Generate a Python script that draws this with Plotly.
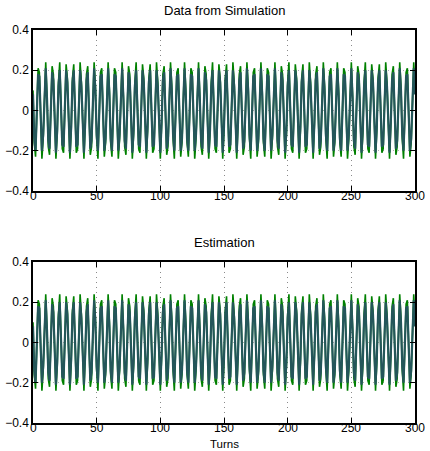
import plotly.graph_objects as go

# Turn index and signal values (two series, two panels)
turns = list(range(301))

sim_green = [
    0.10, -0.16, -0.23, -0.03, 0.21, 0.19, -0.05, -0.24, -0.14, 0.12, 0.24, 0.07, -0.18, -0.22, 0.00, 0.22, 0.18, -0.07, -0.24, -0.12,
    0.14, 0.24, 0.05, -0.19, -0.21, 0.03, 0.23, 0.16, -0.10, -0.24, -0.10, 0.16, 0.23, 0.03, -0.21, -0.19, 0.05, 0.24, 0.14, -0.12,
    -0.24, -0.07, 0.18, 0.22, 0.00, -0.22, -0.18, 0.07, 0.24, 0.12, -0.14, -0.24, -0.05, 0.19, 0.21, -0.03, -0.23, -0.16, 0.10, 0.24,
    0.10, -0.16, -0.23, -0.03, 0.21, 0.19, -0.05, -0.24, -0.14, 0.12, 0.24, 0.07, -0.18, -0.22, 0.00, 0.22, 0.18, -0.07, -0.24, -0.12,
    0.14, 0.24, 0.05, -0.19, -0.21, 0.03, 0.23, 0.16, -0.10, -0.24, -0.10, 0.16, 0.23, 0.03, -0.21, -0.19, 0.05, 0.24, 0.14, -0.12,
    -0.24, -0.07, 0.18, 0.22, 0.00, -0.22, -0.18, 0.07, 0.24, 0.12, -0.14, -0.24, -0.05, 0.19, 0.21, -0.03, -0.23, -0.16, 0.10, 0.24,
    0.10, -0.16, -0.23, -0.03, 0.21, 0.19, -0.05, -0.24, -0.14, 0.12, 0.24, 0.07, -0.18, -0.22, 0.00, 0.22, 0.18, -0.07, -0.24, -0.12,
    0.14, 0.24, 0.05, -0.19, -0.21, 0.03, 0.23, 0.16, -0.10, -0.24, -0.10, 0.16, 0.23, 0.03, -0.21, -0.19, 0.05, 0.24, 0.14, -0.12,
    -0.24, -0.07, 0.18, 0.22, 0.00, -0.22, -0.18, 0.07, 0.24, 0.12, -0.14, -0.24, -0.05, 0.19, 0.21, -0.03, -0.23, -0.16, 0.10, 0.24,
    0.10, -0.16, -0.23, -0.03, 0.21, 0.19, -0.05, -0.24, -0.14, 0.12, 0.24, 0.07, -0.18, -0.22, 0.00, 0.22, 0.18, -0.07, -0.24, -0.12,
    0.14, 0.24, 0.05, -0.19, -0.21, 0.03, 0.23, 0.16, -0.10, -0.24, -0.10, 0.16, 0.23, 0.03, -0.21, -0.19, 0.05, 0.24, 0.14, -0.12,
    -0.24, -0.07, 0.18, 0.22, 0.00, -0.22, -0.18, 0.07, 0.24, 0.12, -0.14, -0.24, -0.05, 0.19, 0.21, -0.03, -0.23, -0.16, 0.10, 0.24,
    0.10, -0.16, -0.23, -0.03, 0.21, 0.19, -0.05, -0.24, -0.14, 0.12, 0.24, 0.07, -0.18, -0.22, 0.00, 0.22, 0.18, -0.07, -0.24, -0.12,
    0.14, 0.24, 0.05, -0.19, -0.21, 0.03, 0.23, 0.16, -0.10, -0.24, -0.10, 0.16, 0.23, 0.03, -0.21, -0.19, 0.05, 0.24, 0.14, -0.12,
    -0.24, -0.07, 0.18, 0.22, 0.00, -0.22, -0.18, 0.07, 0.24, 0.12, -0.14, -0.24, -0.05, 0.19, 0.21, -0.03, -0.23, -0.16, 0.10, 0.24,
    0.10,
]

sim_dark = [
    0.08, -0.14, -0.20, -0.02, 0.18, 0.17, -0.04, -0.20, -0.12, 0.10, 0.21, 0.06, -0.15, -0.19, 0.00, 0.19, 0.15, -0.06, -0.21, -0.10,
    0.12, 0.20, 0.04, -0.17, -0.18, 0.02, 0.20, 0.14, -0.08, -0.21, -0.08, 0.14, 0.20, 0.02, -0.18, -0.17, 0.04, 0.20, 0.12, -0.10,
    -0.21, -0.06, 0.15, 0.19, 0.00, -0.19, -0.15, 0.06, 0.21, 0.10, -0.12, -0.20, -0.04, 0.17, 0.18, -0.02, -0.20, -0.14, 0.08, 0.21,
    0.08, -0.14, -0.20, -0.02, 0.18, 0.17, -0.04, -0.20, -0.12, 0.10, 0.21, 0.06, -0.15, -0.19, 0.00, 0.19, 0.15, -0.06, -0.21, -0.10,
    0.12, 0.20, 0.04, -0.17, -0.18, 0.02, 0.20, 0.14, -0.08, -0.21, -0.08, 0.14, 0.20, 0.02, -0.18, -0.17, 0.04, 0.20, 0.12, -0.10,
    -0.21, -0.06, 0.15, 0.19, 0.00, -0.19, -0.15, 0.06, 0.21, 0.10, -0.12, -0.20, -0.04, 0.17, 0.18, -0.02, -0.20, -0.14, 0.08, 0.21,
    0.08, -0.14, -0.20, -0.02, 0.18, 0.17, -0.04, -0.20, -0.12, 0.10, 0.21, 0.06, -0.15, -0.19, 0.00, 0.19, 0.15, -0.06, -0.21, -0.10,
    0.12, 0.20, 0.04, -0.17, -0.18, 0.02, 0.20, 0.14, -0.08, -0.21, -0.08, 0.14, 0.20, 0.02, -0.18, -0.17, 0.04, 0.20, 0.12, -0.10,
    -0.21, -0.06, 0.15, 0.19, 0.00, -0.19, -0.15, 0.06, 0.21, 0.10, -0.12, -0.20, -0.04, 0.17, 0.18, -0.02, -0.20, -0.14, 0.08, 0.21,
    0.08, -0.14, -0.20, -0.02, 0.18, 0.17, -0.04, -0.20, -0.12, 0.10, 0.21, 0.06, -0.15, -0.19, 0.00, 0.19, 0.15, -0.06, -0.21, -0.10,
    0.12, 0.20, 0.04, -0.17, -0.18, 0.02, 0.20, 0.14, -0.08, -0.21, -0.08, 0.14, 0.20, 0.02, -0.18, -0.17, 0.04, 0.20, 0.12, -0.10,
    -0.21, -0.06, 0.15, 0.19, 0.00, -0.19, -0.15, 0.06, 0.21, 0.10, -0.12, -0.20, -0.04, 0.17, 0.18, -0.02, -0.20, -0.14, 0.08, 0.21,
    0.08, -0.14, -0.20, -0.02, 0.18, 0.17, -0.04, -0.20, -0.12, 0.10, 0.21, 0.06, -0.15, -0.19, 0.00, 0.19, 0.15, -0.06, -0.21, -0.10,
    0.12, 0.20, 0.04, -0.17, -0.18, 0.02, 0.20, 0.14, -0.08, -0.21, -0.08, 0.14, 0.20, 0.02, -0.18, -0.17, 0.04, 0.20, 0.12, -0.10,
    -0.21, -0.06, 0.15, 0.19, 0.00, -0.19, -0.15, 0.06, 0.21, 0.10, -0.12, -0.20, -0.04, 0.17, 0.18, -0.02, -0.20, -0.14, 0.08, 0.21,
    0.08,
]

est_green = list(sim_green)
est_dark = list(sim_dark)

x_ticks = [0, 50, 100, 150, 200, 250, 300]
x_tick_labels = ["0", "50", "100", "150", "200", "250", "300"]
y_ticks = [-0.4, -0.2, 0, 0.2, 0.4]
y_tick_labels = ["\u22120.4", "\u22120.2", "0", "0.2", "0.4"]
titles = ["Data from Simulation", "Estimation"]
x_title = "Turns"

GREEN = "#008000"
DARK = "#24565a"
FONT = "Liberation Sans, Arial, sans-serif"

fig = go.Figure()
panels = [(sim_green, sim_dark, "x", "y"), (est_green, est_dark, "x2", "y2")]
for g, d, xa, ya in panels:
    fig.add_trace(go.Scatter(x=turns, y=g, mode="lines", line=dict(color=GREEN, width=1.6),
                             xaxis=xa, yaxis=ya, showlegend=False, hoverinfo="skip"))
    fig.add_trace(go.Scatter(x=turns, y=d, mode="lines", line=dict(color=DARK, width=2.2),
                             xaxis=xa, yaxis=ya, showlegend=False, hoverinfo="skip"))

common_x = dict(range=[0, 300], tickvals=x_ticks, ticks="inside", ticklen=5, tickcolor="black",
                showline=True, linecolor="black", linewidth=1.5, mirror="ticks",
                showgrid=True, gridcolor="#8a8a8a", griddash="1px,4px", gridwidth=1,
                zeroline=False, automargin=False, showticklabels=False)
common_y = dict(range=[-0.4, 0.4], tickvals=y_ticks, ticktext=y_tick_labels, ticks="inside", ticklen=5,
                tickcolor="black", showline=True, linecolor="black", linewidth=1.5, mirror="ticks",
                showgrid=True, gridcolor="#b0b0b0", griddash="1px,4px", gridwidth=1,
                zeroline=False, automargin=False,
                tickfont=dict(size=12, color="black", family=FONT))

top_dom = [0.5903, 1.0]
bot_dom = [0.0, 0.4097]

annotations = [
    dict(text=titles[0], x=0.5, xref="paper", y=top_dom[1], yref="paper", yshift=10,
         xanchor="center", yanchor="bottom", showarrow=False, font=dict(size=13, family=FONT)),
    dict(text=titles[1], x=0.5, xref="paper", y=bot_dom[1], yref="paper", yshift=10,
         xanchor="center", yanchor="bottom", showarrow=False, font=dict(size=13, family=FONT)),
    dict(text=x_title, x=0.5, xref="paper", y=0, yref="paper", yshift=-28, borderpad=0,
         xanchor="center", yanchor="bottom", showarrow=False, font=dict(size=11.5, family=FONT)),
]
# x tick labels placed close beneath each panel's axis, as in the reference
for xr, dom in (("x", top_dom), ("x2", bot_dom)):
    for v, t in zip(x_ticks, x_tick_labels):
        annotations.append(dict(text=t, x=v, xref=xr, y=dom[0], yref="paper", yshift=3, borderpad=0,
                                xanchor="center", yanchor="top", showarrow=False,
                                font=dict(size=12, family=FONT, color="black")))

fig.update_layout(
    width=430, height=451,
    margin=dict(l=33, r=15, t=30, b=28, autoexpand=False),
    paper_bgcolor="white", plot_bgcolor="white",
    font=dict(family=FONT, size=12, color="black"),
    xaxis=dict(**common_x, domain=[0, 1], anchor="y"),
    yaxis=dict(**common_y, domain=top_dom, anchor="x"),
    xaxis2=dict(**common_x, domain=[0, 1], anchor="y2"),
    yaxis2=dict(**common_y, domain=bot_dom, anchor="x2"),
    annotations=annotations,
)

fig.write_html("out.html", config={"displayModeBar": False},
               post_script="document.body.style.margin='0';document.body.style.overflow='hidden';")
